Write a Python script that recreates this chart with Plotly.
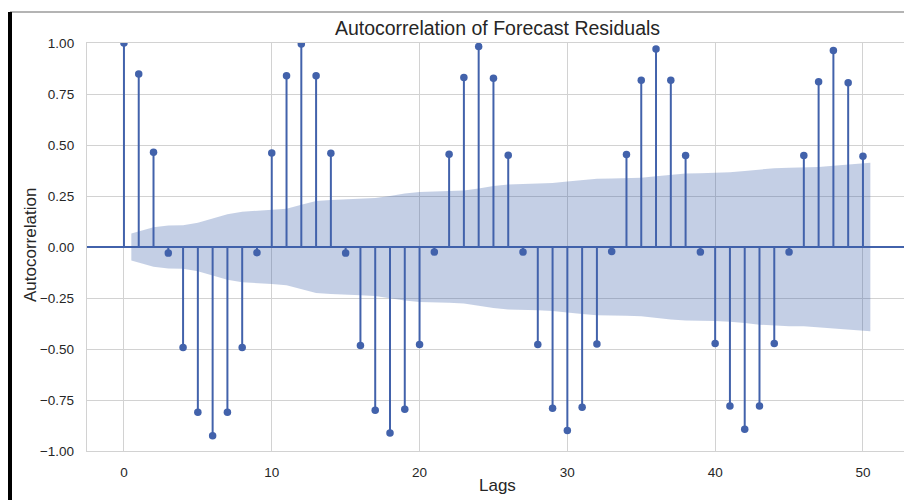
import plotly.graph_objects as go

# ---- data ----
lags = list(range(51))
acf_values = [1.00, 0.848, 0.464, -0.030, -0.493, -0.810, -0.925, -0.810, -0.493, -0.028,
              0.461, 0.840, 0.995, 0.840, 0.460, -0.030, -0.483, -0.800, -0.912, -0.795,
              -0.478, -0.025, 0.455, 0.831, 0.983, 0.827, 0.450, -0.025, -0.478, -0.790,
              -0.900, -0.785, -0.475, -0.022, 0.453, 0.818, 0.971, 0.818, 0.448, -0.025,
              -0.473, -0.779, -0.893, -0.779, -0.473, -0.025, 0.448, 0.810, 0.963, 0.805,
              0.445]

band_lags = [0.5] + list(range(2, 50)) + [50.5]
band_half = [0.066,
             0.097, 0.105, 0.107, 0.119, 0.138, 0.160, 0.173, 0.177, 0.181, 0.188,
             0.207, 0.226, 0.231, 0.234, 0.236, 0.240, 0.250, 0.262, 0.269, 0.272,
             0.273, 0.277, 0.287, 0.299, 0.306, 0.308, 0.310, 0.314, 0.321, 0.329,
             0.334, 0.336, 0.337, 0.340, 0.347, 0.355, 0.360, 0.362, 0.363, 0.366,
             0.373, 0.381, 0.386, 0.388, 0.389, 0.392, 0.398, 0.405,
             0.413]

x_ticks = [0, 10, 20, 30, 40, 50]
y_ticks = [-1.0, -0.75, -0.5, -0.25, 0.0, 0.25, 0.5, 0.75, 1.0]

title_text = "Autocorrelation of Forecast Residuals"
x_label = "Lags"
y_label = "Autocorrelation"

# ---- styling ----
W, H = 904, 500
ML, MR, MT, MB = 87, 0, 43, 49
BLUE = "#4262ab"
TEXT = "#262626"
GRID = "#d2d2d2"
FONT = "Liberation Sans, Arial, sans-serif"

fig = go.Figure()

# confidence band
fig.add_trace(go.Scatter(
    x=band_lags + band_lags[::-1],
    y=band_half + [-v for v in band_half[::-1]],
    fill="toself", fillcolor="rgba(60,95,170,0.30)",
    line=dict(width=0), mode="lines", hoverinfo="skip", showlegend=False))

# stems
sx, sy = [], []
for lg, v in zip(lags, acf_values):
    sx += [lg, lg, None]
    sy += [0, v, None]
fig.add_trace(go.Scatter(x=sx, y=sy, mode="lines",
                         line=dict(color=BLUE, width=2), showlegend=False,
                         hoverinfo="skip"))

# markers
fig.add_trace(go.Scatter(x=lags, y=acf_values, mode="markers",
                         marker=dict(color=BLUE, size=7.5), showlegend=False))

plot_w = W - ML - MR
plot_h = H - MT - MB


def px_to_paper_x(px):
    return (px - ML) / plot_w


def px_to_paper_y(py):
    return (H - MB - py) / plot_h


fig.update_layout(
    width=W, height=H, autosize=False,
    margin=dict(l=ML, r=MR, t=MT, b=MB),
    paper_bgcolor="white", plot_bgcolor="white",
    font=dict(family=FONT, color=TEXT),
    title=dict(text=title_text, font=dict(size=19.5, color=TEXT, family=FONT),
               xref="container", x=497.5 / W, xanchor="center",
               yref="container", y=1 - 28.5 / H, yanchor="middle"),
    xaxis=dict(range=[-2.5, -2.5 + plot_w / 14.78], tickvals=x_ticks,
               showgrid=True, gridcolor=GRID, gridwidth=1.3,
               showline=True, linecolor=GRID, linewidth=1.3, mirror=True,
               zeroline=False, ticks="", ticklabelstandoff=9,
               tickfont=dict(size=13.5, color=TEXT)),
    yaxis=dict(range=[-1.0, 1.0], tickvals=y_ticks, tickformat=".2f",
               showgrid=True, gridcolor=GRID, gridwidth=1.3,
               showline=True, linecolor=GRID, linewidth=1.3, mirror=False,
               zeroline=True, zerolinecolor=BLUE, zerolinewidth=2,
               ticks="", ticklabelstandoff=9,
               tickfont=dict(size=13.5, color=TEXT)),
    annotations=[
        dict(text=x_label, xref="paper", yref="paper",
             x=px_to_paper_x(497.5), y=px_to_paper_y(486),
             xanchor="center", yanchor="middle", showarrow=False,
             font=dict(size=17, color=TEXT, family=FONT)),
        dict(text=y_label, xref="paper", yref="paper",
             x=px_to_paper_x(30), y=px_to_paper_y(245),
             xanchor="center", yanchor="middle", textangle=-90, showarrow=False,
             font=dict(size=17, color=TEXT, family=FONT)),
    ],
    shapes=[
        dict(type="line", xref="paper", yref="paper",
             x0=px_to_paper_x(10), x1=1.0, y0=px_to_paper_y(12), y1=px_to_paper_y(12),
             line=dict(color="#6a6a6a", width=1.2), layer="above"),
        dict(type="line", xref="paper", yref="paper",
             x0=px_to_paper_x(10), x1=px_to_paper_x(10),
             y0=px_to_paper_y(12), y1=px_to_paper_y(502),
             line=dict(color="black", width=4), layer="above"),
    ],
)

fig.write_html("out.html")
